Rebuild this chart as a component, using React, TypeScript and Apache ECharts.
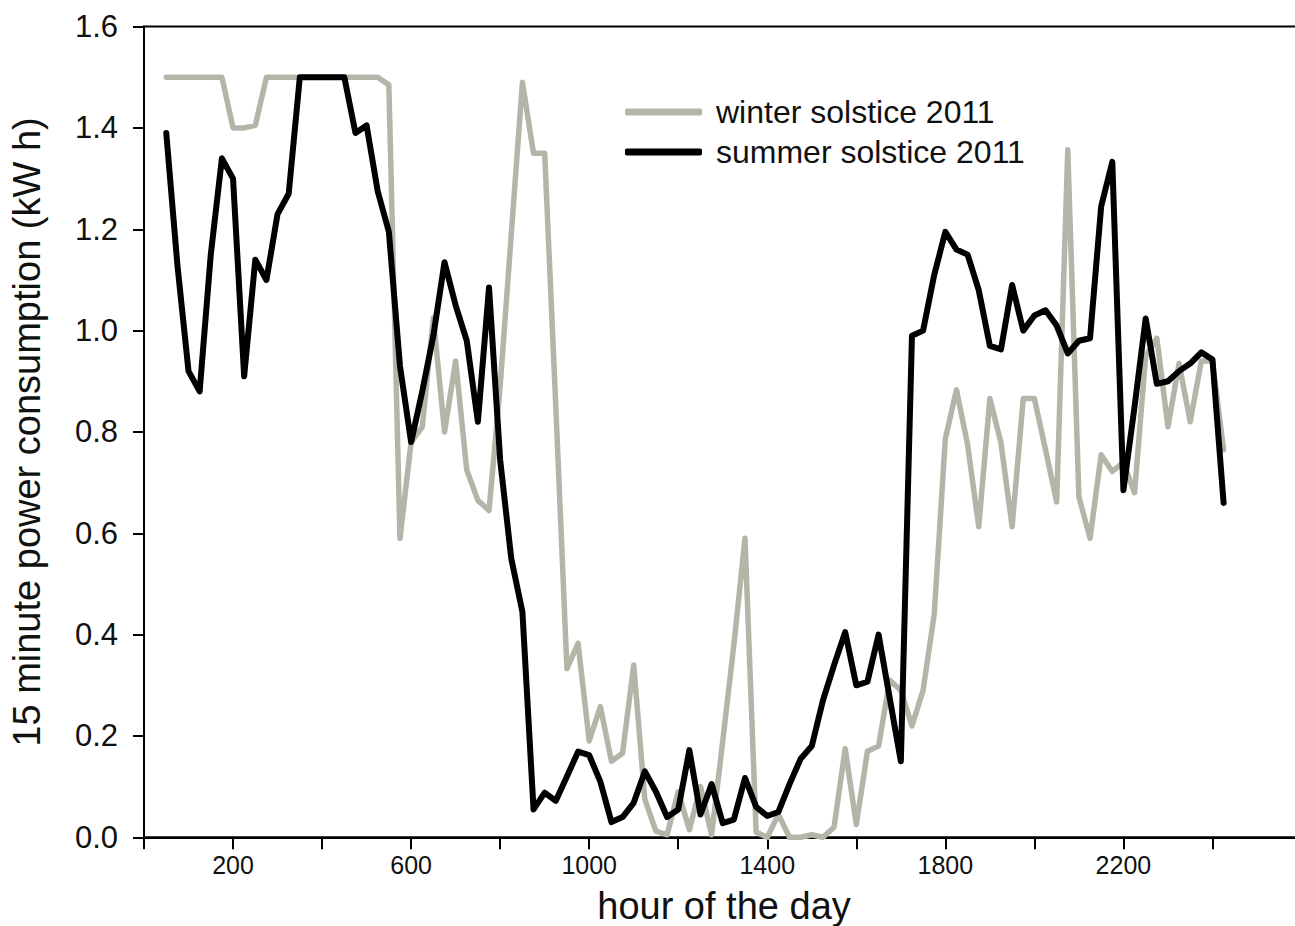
import React, { useEffect, useRef } from "react";
import * as echarts from "echarts";

const hours = [
  50, 75, 100, 125, 150, 175, 200, 225, 250, 275, 300, 325, 350, 375, 400, 425,
  450, 475, 500, 525, 550, 575, 600, 625, 650, 675, 700, 725, 750, 775, 800, 825,
  850, 875, 900, 925, 950, 975, 1000, 1025, 1050, 1075, 1100, 1125, 1150, 1175, 1200, 1225,
  1250, 1275, 1300, 1325, 1350, 1375, 1400, 1425, 1450, 1475, 1500, 1525, 1550, 1575, 1600, 1625,
  1650, 1675, 1700, 1725, 1750, 1775, 1800, 1825, 1850, 1875, 1900, 1925, 1950, 1975, 2000, 2025,
  2050, 2075, 2100, 2125, 2150, 2175, 2200, 2225, 2250, 2275, 2300, 2325, 2350, 2375, 2400, 2425,
];

const winter = [
  1.5, 1.5, 1.5, 1.5, 1.5, 1.5, 1.4, 1.4, 1.405, 1.5, 1.5, 1.5, 1.5, 1.5, 1.5, 1.5,
  1.5, 1.5, 1.5, 1.5, 1.485, 0.59, 0.78, 0.81, 1.025, 0.8, 0.94, 0.725, 0.665, 0.645, 0.89, 1.19,
  1.49, 1.35, 1.35, 0.85, 0.333, 0.383, 0.19, 0.258, 0.15, 0.166, 0.34, 0.075, 0.012, 0.005, 0.09, 0.015,
  0.1, 0.005, 0.19, 0.38, 0.59, 0.01, 0.0, 0.045, 0.0, 0.0, 0.005, 0.0, 0.02, 0.175, 0.025, 0.17,
  0.18, 0.31, 0.29, 0.22, 0.29, 0.44, 0.787, 0.883, 0.775, 0.613, 0.866, 0.778, 0.613, 0.866, 0.866, 0.765,
  0.662, 1.357, 0.672, 0.59, 0.755, 0.722, 0.74, 0.68, 0.95, 0.985, 0.81, 0.935, 0.82, 0.94, 0.94, 0.765,
];

const summer = [
  1.39, 1.13, 0.92, 0.88, 1.15, 1.34, 1.3, 0.91, 1.14, 1.1, 1.23, 1.27, 1.5, 1.5, 1.5, 1.5,
  1.5, 1.39, 1.405, 1.275, 1.195, 0.93, 0.78, 0.88, 0.99, 1.135, 1.05, 0.98, 0.82, 1.085, 0.745, 0.55,
  0.445, 0.055, 0.088, 0.072, 0.12, 0.169, 0.162, 0.11, 0.03, 0.04, 0.068, 0.13, 0.09, 0.04, 0.055, 0.172,
  0.045, 0.105, 0.028, 0.035, 0.117, 0.06, 0.042, 0.05, 0.105, 0.155, 0.18, 0.27, 0.34, 0.405, 0.3, 0.307,
  0.4, 0.275, 0.15, 0.99, 1.0, 1.11, 1.195, 1.16, 1.15, 1.08, 0.97, 0.963, 1.09, 1.0, 1.03, 1.04,
  1.01, 0.955, 0.98, 0.985, 1.245, 1.333, 0.685, 0.85, 1.024, 0.895, 0.9, 0.92, 0.935, 0.957, 0.943, 0.66,
];

const xLabelTicks = [200, 600, 1000, 1400, 1800, 2200];
const seriesNames = ["winter solstice 2011", "summer solstice 2011"];
const xTitle = "hour of the day";
const yTitle = "15 minute power consumption (kW h)";

const FONT = "Liberation Sans, Arial, Helvetica, sans-serif";
const GREY = "#b4b5a9";

export default function App() {
  const ref = useRef<HTMLDivElement>(null);
  useEffect(() => {
    document.body.style.margin = "0";
    document.body.style.overflow = "hidden";
    if (!ref.current) return;
    const chart = echarts.init(ref.current, null, { renderer: "svg" });
    const winterData = hours.map((h, i) => [h, winter[i]]);
    const summerData = hours.map((h, i) => [h, summer[i]]);
    chart.setOption({
      animation: false,
      backgroundColor: "#ffffff",
      grid: {
        left: 144,
        top: 26.6,
        width: 1157.5,
        height: 810.7,
        show: true,
        borderColor: "#000",
        borderWidth: 2,
        backgroundColor: "transparent",
      },
      legend: {
        data: seriesNames,
        orient: "vertical",
        left: 625,
        top: 96,
        padding: 0,
        icon: "roundRect",
        itemWidth: 77,
        itemHeight: 7,
        itemGap: 8,
        textStyle: {
          fontSize: 32,
          lineHeight: 32,
          color: "#111",
          fontFamily: FONT,
          padding: [0, 0, 0, 9],
        },
      },
      xAxis: {
        type: "value",
        min: 0,
        max: 2600,
        interval: 200,
        axisLine: { lineStyle: { color: "#000", width: 2 } },
        axisTick: { length: 12, lineStyle: { color: "#000", width: 2 } },
        splitLine: { show: false },
        axisLabel: {
          fontSize: 25,
          fontFamily: FONT,
          color: "#111",
          margin: 15,
          formatter: (v: number) => (xLabelTicks.indexOf(v) >= 0 ? String(v) : ""),
        },
      },
      yAxis: {
        type: "value",
        min: 0,
        max: 1.6,
        interval: 0.2,
        axisLine: { show: true, lineStyle: { color: "#000", width: 2 } },
        axisTick: { show: true, length: 11, lineStyle: { color: "#000", width: 2 } },
        splitLine: { show: false },
        axisLabel: {
          fontSize: 31,
          fontFamily: FONT,
          color: "#111",
          margin: 26,
          formatter: (v: number) => v.toFixed(1),
        },
      },
      graphic: [
        {
          type: "text",
          x: 724,
          y: 906,
          style: {
            text: xTitle,
            font: `38px ${FONT}`,
            fill: "#111",
            textAlign: "center",
            textVerticalAlign: "middle",
          },
        },
        {
          type: "text",
          x: 27,
          y: 432,
          rotation: Math.PI / 2,
          style: {
            text: yTitle,
            font: `38px ${FONT}`,
            fill: "#111",
            textAlign: "center",
            textVerticalAlign: "middle",
          },
        },
      ],
      series: [
        {
          name: seriesNames[0],
          type: "line",
          data: winterData,
          symbol: "none",
          showSymbol: false,
          itemStyle: { color: GREY },
          lineStyle: { color: GREY, width: 5.5, join: "round", cap: "round" },
          z: 2,
        },
        {
          name: seriesNames[1],
          type: "line",
          data: summerData,
          symbol: "none",
          showSymbol: false,
          itemStyle: { color: "#000" },
          lineStyle: { color: "#000", width: 6, join: "round", cap: "round" },
          z: 3,
        },
      ],
    });
    return () => chart.dispose();
  }, []);
  return <div ref={ref} style={{ width: 1320, height: 926 }} />;
}
